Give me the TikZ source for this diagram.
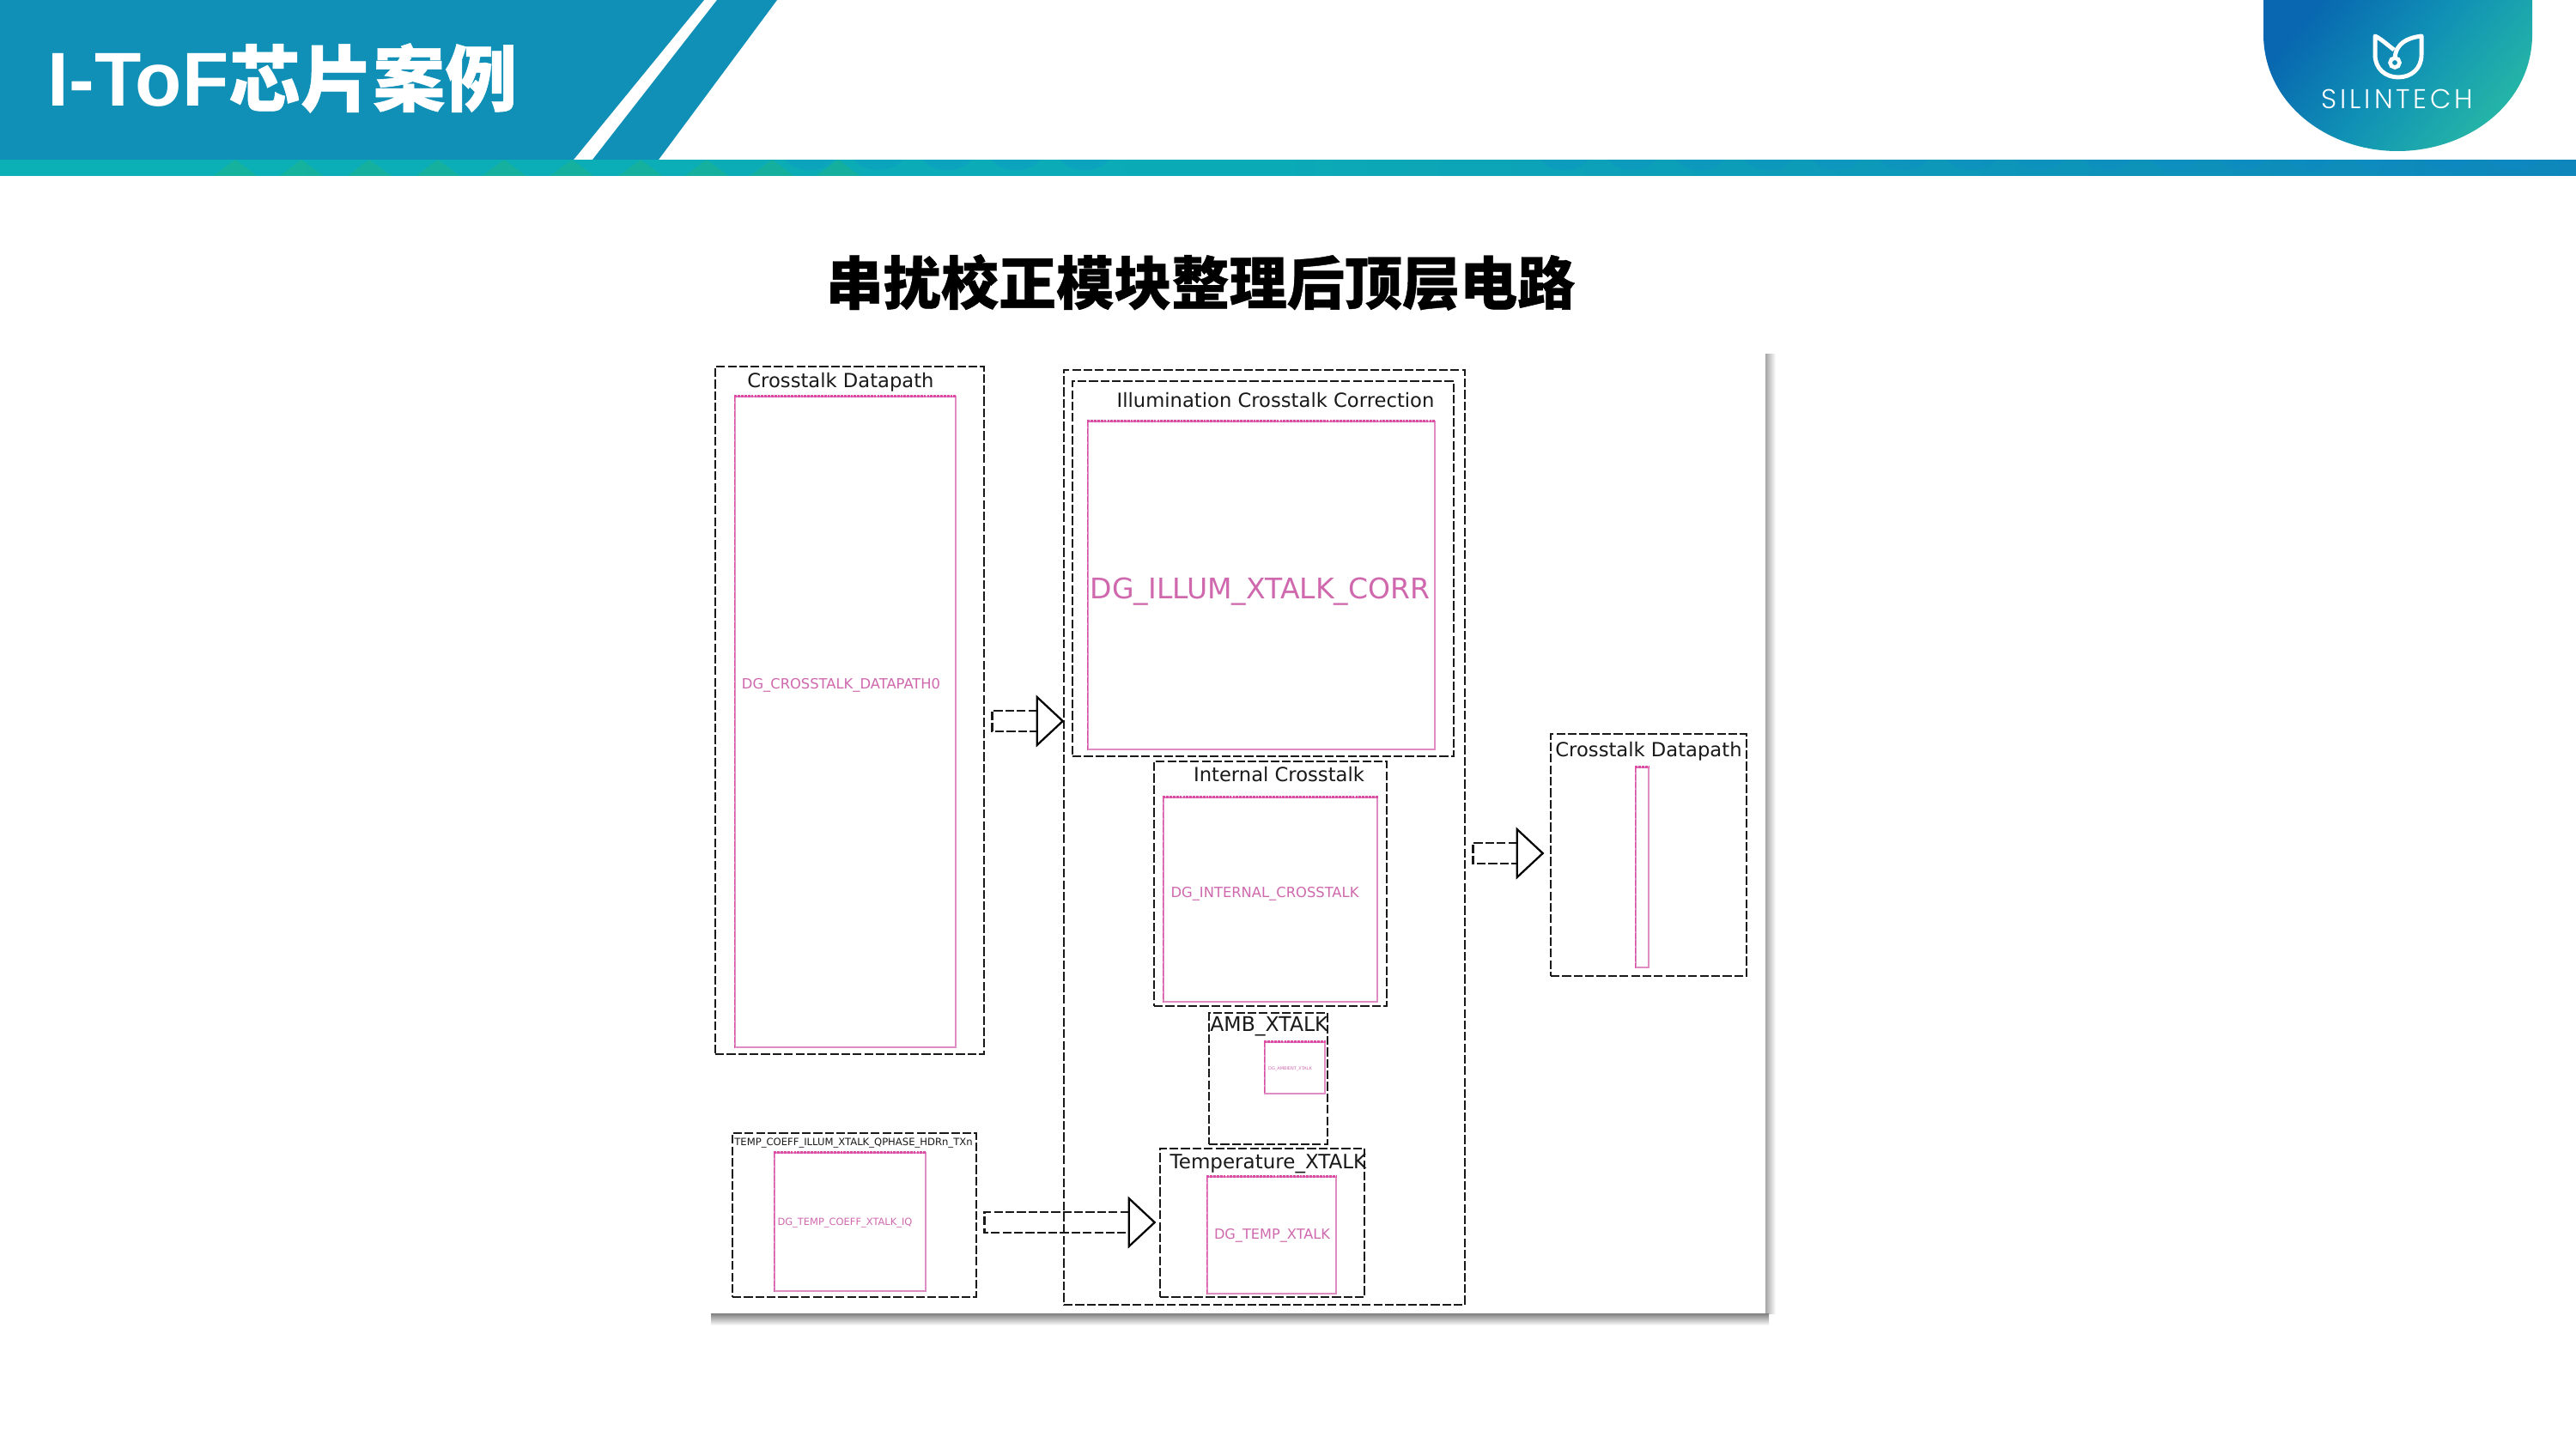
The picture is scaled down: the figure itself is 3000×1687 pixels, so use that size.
\documentclass[tikz,border=0pt]{standalone}
\usepackage{fontspec}
\setmainfont{DejaVu Sans}
\newfontfamily\cjk[BoldFeatures={FakeBold=0.6}]{Noto Sans CJK SC}
\newfontfamily\headfont{Liberation Sans}
\newfontfamily\logofont[LetterSpace=12]{Poppins Light}
\usetikzlibrary{calc,fit}

\definecolor{headblue}{HTML}{1190B7}
\definecolor{bandteal}{HTML}{0BB0B6}
\definecolor{bandblue}{HTML}{0E86BB}
\definecolor{logoblue}{HTML}{0867B0}
\definecolor{logomid}{HTML}{1092B5}
\definecolor{logoteal}{HTML}{26B7A6}
\definecolor{dgpink}{HTML}{DE8CC2}
\definecolor{dgedge}{HTML}{DC4CA4}
\definecolor{dgtext}{HTML}{D068AE}

\tikzset{
	xbox/.style={draw=black!90, line width=0.75pt, dash pattern=on 2.9pt off 0.9pt, inner sep=0pt},
	dgcell/.style={draw=dgpink, line width=0.4pt, inner sep=0pt},
	dgtop/.style={draw=dgedge, line width=1pt, dash pattern=on 0.8pt off 0.3pt},
	dgside/.style={draw=dgedge, line width=0.4pt, dash pattern=on 2pt off 0.5pt},
	boxlabel/.style={text=black!90, font=\fontsize{6.45}{8}\selectfont, inner sep=0pt},
	cellname/.style={text=dgtext, inner sep=0pt},
	headline/.style={draw=black, line width=0.65pt, line join=miter}
}

\newcommand{\blockarrow}[4]{%
	\coordinate (tl) at ($(#1.east |- 0,#3)+(8,0)$);
	\coordinate (hd) at ($(#2.west |- 0,#3)+(#4,0)$);
	\draw[xbox] ($(hd)+(-30,-12)$) -| ($(tl)+(0,12)$) -- ($(hd)+(-30,12)$);
	\draw[headline] ($(hd)+(-30,-28)$) -- (hd) -- ($(hd)+(-30,28)$) -- cycle;
}

\begin{document}
\begin{tikzpicture}[x=0.1mm, y=-0.1mm]
	\useasboundingbox (0,0) rectangle (3000,1687);
	\fill[white] (0,0) rectangle (3000,1687);

	% header
	\fill[headblue] (0,0) -- (820,0) -- (668,186) -- (0,186) -- cycle;
	\fill[headblue] (835,0) -- (905,0) -- (767,186) -- (690,186) -- cycle;
	\shade[left color=bandteal, right color=bandblue, middle color=bandteal!85!bandblue] (0,186) rectangle (3000,204.5);
	\foreach \x in {274,351,430,510,587,666,746,823,899,976}
		\fill[green!50!gray, opacity=0.2] (\x-25,204.5) -- (\x,186) -- (\x+25,204.5) -- cycle;
	\foreach \x in {943,1023,1103,1183,1263,1822,1901,...,2933}
		\fill[cyan!70!blue, opacity=0.22] (\x-28,186) .. controls (\x-18,202) and (\x+18,202) .. (\x+28,186) -- cycle;
	\node (pagetitle) [anchor=base west, text=white, inner sep=0pt] at (55,123) {\headfont\fontsize{25.3}{30}\selectfont\bfseries I-ToF\cjk\fontsize{23.9}{30}\selectfont\bfseries 芯片案例};

	% logo
	\shade[left color=logoblue, right color=logoteal, middle color=logomid, shading angle=50] (2636,0) -- (2636,40) .. controls (2636,120) and (2710,176) .. (2792,176) .. controls (2875,176) and (2949,120) .. (2949,40) -- (2949,0) -- cycle;
	\draw[white, line width=1.4pt, line join=round] (2788,58) .. controls (2780,52) and (2774,46) .. (2766,42) -- (2766,64) .. controls (2766,80) and (2778,90) .. (2793,90) .. controls (2808,90) and (2820,80) .. (2820,64) -- (2820,42) .. controls (2804,44) and (2790,50) .. (2789,68);
	\draw[white, line width=1.3pt] (2789,73) circle (5.5);
	\node (logotext) [text=white, inner sep=0pt] at (2792,115.5) {\logofont\fontsize{9}{10}\selectfont SILINTECH};

	% slide heading
	\node (slidehead) [inner sep=0pt] at (1398,329) {\cjk\bfseries\fontsize{19.1}{22}\selectfont 串扰校正模块整理后顶层电路};

	% panel with its shadow
	\shade[left color=black!35, right color=white] (2056,412) rectangle (2068,1530);
	\shade[top color=black!50, bottom color=white] (828,1530) rectangle (2060,1544);
	\fill[white] (826,407) rectangle (2056,1530);

	% blocks
	\node (dpbox) [xbox, fit={(833,427) (1146,1228)}] {};
	\node (dpcell) [dgcell, fit={(856,462) (1113,1220)}] {};
	\node (outerbox) [xbox, fit={(1239,431) (1706,1520)}] {};
	\node (illumbox) [xbox, fit={(1249,444) (1693,881)}] {};
	\node (illumcell) [dgcell, fit={(1267,491) (1671,873)}] {};
	\node (intbox) [xbox, fit={(1344,887) (1615,1172)}] {};
	\node (intcell) [dgcell, fit={(1355,929) (1604,1167)}] {};
	\node (ambbox) [xbox, fit={(1408,1180) (1546,1333)}] {};
	\node (ambcell) [dgcell, fit={(1473,1214) (1543,1274)}] {};
	\node (tempbox) [xbox, fit={(1351,1338) (1589,1511)}] {};
	\node (tempcell) [dgcell, fit={(1406,1371) (1556,1507)}] {};
	\node (coeffbox) [xbox, fit={(853,1320) (1137,1511)}] {};
	\node (coeffcell) [dgcell, fit={(902,1343) (1078,1504)}] {};
	\node (outbox) [xbox, fit={(1806,855) (2034,1137)}] {};
	\node (outcell) [dgcell, fit={(1905,894) (1920,1127)}] {};
	\foreach \n in {dpcell,illumcell,intcell,ambcell,tempcell,coeffcell,outcell} {
		\draw[dgtop] (\n.north west) -- (\n.north east);
		\draw[dgside] (\n.north west) -- (\n.south west);
	}

	% block titles
	\node (dplabel) [boxlabel] at (979,445) {Crosstalk Datapath};
	\node (illumlabel) [boxlabel] at (1485.5,466) {Illumination Crosstalk Correction};
	\node (intlabel) [boxlabel] at (1489.5,902) {Internal Crosstalk};
	\node (amblabel) [boxlabel, font=\fontsize{6.7}{8}\selectfont] at (1478,1196) {AMB\_XTALK};
	\node (templabel) [boxlabel, font=\fontsize{6.55}{8}\selectfont] at (1477,1356) {Temperature\_XTALK};
	\node (outlabel) [boxlabel] at (1920,875) {Crosstalk Datapath};
	\node (coefflabel) [boxlabel, font=\fontsize{3.3}{4}\selectfont] at (994,1332) {TEMP\_COEFF\_ILLUM\_XTALK\_QPHASE\_HDRn\_TXn};

	% cell names
	\node (dpname) [cellname, font=\fontsize{4.65}{5}\selectfont] at (979.5,798) {DG\_CROSSTALK\_DATAPATH0};
	\node (illumname) [cellname, font=\fontsize{9.4}{11}\selectfont] at (1467.5,689) {DG\_ILLUM\_XTALK\_CORR};
	\node (intname) [cellname, font=\fontsize{4.65}{6}\selectfont] at (1473,1041) {DG\_INTERNAL\_CROSSTALK};
	\node (ambname) [cellname, font=\fontsize{1.42}{2}\selectfont] at (1502.5,1245) {DG\_AMBIENT\_XTALK};
	\node (tempname) [cellname, font=\fontsize{4.6}{6}\selectfont] at (1481.5,1439) {DG\_TEMP\_XTALK};
	\node (coeffname) [cellname, font=\fontsize{3.26}{4}\selectfont] at (984,1425) {DG\_TEMP\_COEFF\_XTALK\_IQ};

	% data flow
	\blockarrow{dpbox}{outerbox}{840}{0}
	\blockarrow{outerbox}{outbox}{994}{-8}
	\blockarrow{coeffbox}{tempbox}{1424}{-5}
\end{tikzpicture}
\end{document}
